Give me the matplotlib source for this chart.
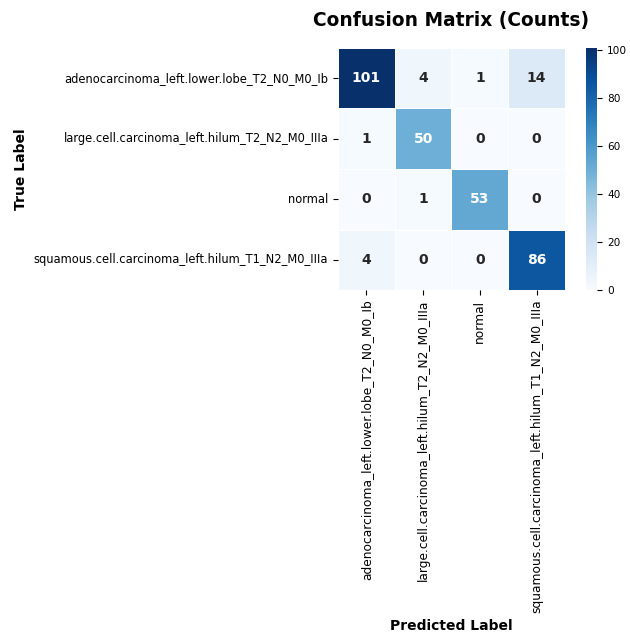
import matplotlib
matplotlib.use("Agg")
import matplotlib.pyplot as plt
import numpy as np
import seaborn as sns

CLASSES = [
    "adenocarcinoma_left.lower.lobe_T2_N0_M0_Ib",
    "large.cell.carcinoma_left.hilum_T2_N2_M0_IIIa",
    "normal",
    "squamous.cell.carcinoma_left.hilum_T1_N2_M0_IIIa",
]
COUNTS = [
    [101, 4, 1, 14],
    [1, 50, 0, 0],
    [0, 1, 53, 0],
    [4, 0, 0, 86],
]


def main():
    cm = np.array(COUNTS)

    fig = plt.figure(figsize=(6.3, 6.37), dpi=100)
    ax = fig.add_axes([0.5365, 0.5447, 0.3603, 0.380])
    cax = fig.add_axes([0.9300, 0.5447, 0.018, 0.380])

    sns.heatmap(
        cm, annot=True, fmt="d", cmap="Blues",
        xticklabels=CLASSES, yticklabels=CLASSES,
        linewidths=0.5, linecolor="white",
        annot_kws={"fontsize": 10, "fontweight": "bold"},
        ax=ax, cbar_ax=cax,
    )
    cax.tick_params(labelsize=7.6)
    cax.set_yticks([0, 20, 40, 60, 80, 100])

    ax.tick_params(axis="x", labelsize=8.8)
    ax.tick_params(axis="y", labelsize=8.3)
    plt.setp(ax.get_xticklabels(), rotation=90)
    plt.setp(ax.get_yticklabels(), rotation=0)

    ax.set_title("Confusion Matrix (Counts)", fontsize=13.4, fontweight="bold", pad=16)
    ax.set_xlabel("Predicted Label", fontsize=10, fontweight="bold", labelpad=4)
    ax.set_ylabel("True Label", fontsize=10, fontweight="bold", labelpad=4)

    fig.savefig("out.png", dpi=100)


if __name__ == "__main__":
    main()
